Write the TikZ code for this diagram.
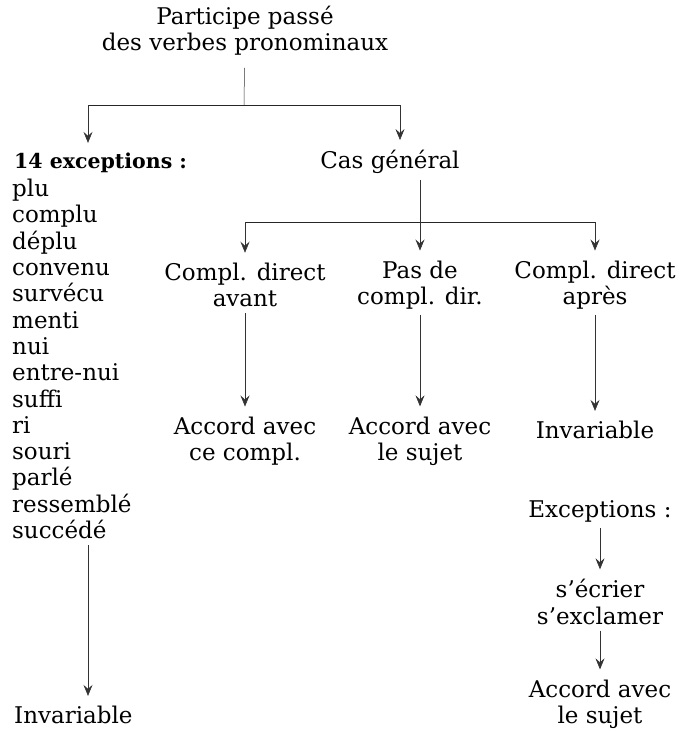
\documentclass[tikz,border=0pt]{standalone}
\usepackage{fontspec}
\setmainfont{DejaVu Serif}
\usetikzlibrary{arrows.meta}

\begin{document}
\begin{tikzpicture}[x=1pt,y=-1pt]
	\tikzset{word/.style = {inner xsep=2pt, inner ysep=6pt, align=center, font=\fontsize{23}{26.3}\selectfont},
		arr/.style = {-{Stealth[length=11pt,width=9pt,inset=4pt]}, line width=0.6pt, draw=black!80, shorten >=4pt},
		bar/.style = {line width=0.6pt, draw=black!85}}
	\useasboundingbox (0,0) rectangle (695,731);

	\node[word] (T_1) at (245,31) {Participe passé\\des verbes pronominaux};
	\node[word, anchor=west, font=\fontsize{20.5}{26.3}\selectfont\bfseries] (E_1) at (12,163) {14 exceptions :};
	\node[word, anchor=west, align=left] (L_1) at (10,359) {plu\\complu\\déplu\\convenu\\survécu\\menti\\nui\\entre-nui\\suffi\\ri\\souri\\parlé\\ressemblé\\succédé};
	\node[word, anchor=west] (I_1) at (12,715) {Invariable};
	\node[word] (C_1) at (390,162) {Cas général};
	\node[word] (K_1) at (245,285) {Compl. direct\\avant};
	\node[word] (K_2) at (420,285) {Pas de\\compl. dir.};
	\node[word] (K_3) at (595,285) {Compl. direct\\après};
	\node[word] (R_1) at (245,441) {Accord avec\\ce compl.};
	\node[word] (R_2) at (420,441) {Accord avec\\le sujet};
	\node[word] (R_3) at (595,430) {Invariable};
	\node[word] (X_1) at (600,511) {Exceptions :};
	\node[word] (S_1) at (600,602) {s’écrier\\s’exclamer};
	\node[word] (A_1) at (600,704) {Accord avec\\le sujet};

	\coordinate (B_0) at (244,105);
	\coordinate (B_1) at (88,105);
	\coordinate (B_2) at (400,105);
	\coordinate (B_3) at (420,222);
	\coordinate (B_4) at (245,222);
	\coordinate (B_5) at (595,222);

	\draw[line width=0.5pt, draw=black!80, shorten <=6pt] (T_1) -- (B_0);
	\draw[bar] (B_1) -- (B_2);
	\draw[arr] (B_1) -- (B_1 |- E_1.north);
	\draw[arr] (B_2) -- (C_1.north -| B_2);
	\draw[line width=0.5pt, draw=black!80] (C_1.south -| B_3) -- (B_3);
	\draw[bar] (B_4) -- (B_5);
	\draw[arr] (B_4) -- (K_1);
	\draw[arr] (B_3) -- (K_2);
	\draw[arr] (B_5) -- (K_3);
	\draw[arr] (K_1) -- (R_1);
	\draw[arr] (K_2) -- (R_2);
	\draw[arr] (K_3) -- (R_3);
	\draw[arr] (X_1) -- (S_1);
	\draw[arr] (S_1) -- (A_1);
	\draw[arr] (L_1.south -| B_1) -- (I_1.north -| B_1);

\end{tikzpicture}
\end{document}
